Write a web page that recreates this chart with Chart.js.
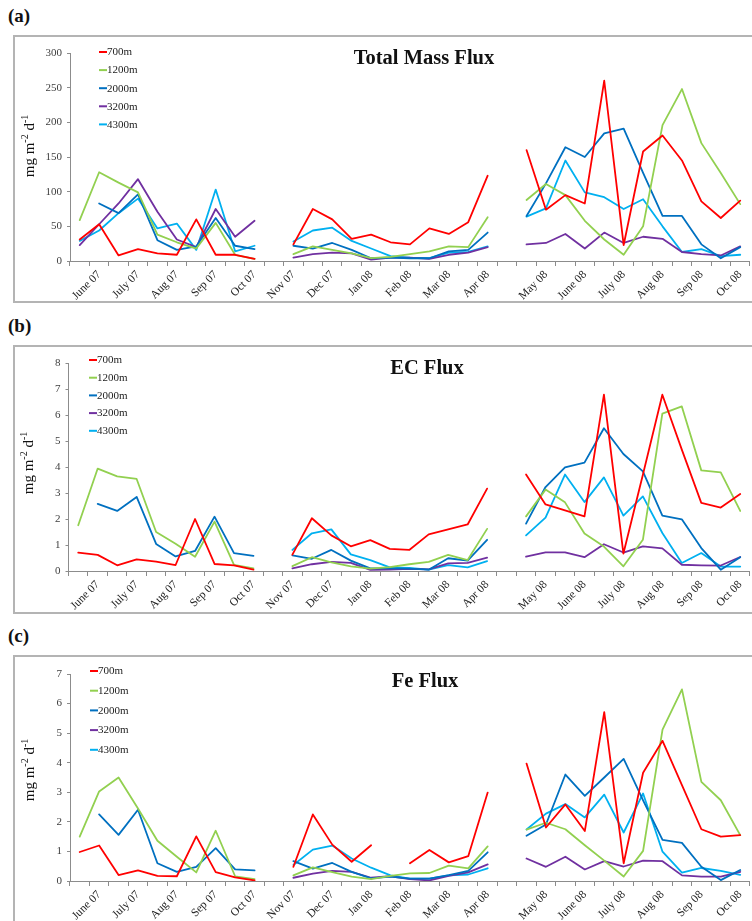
<!DOCTYPE html>
<html>
<head>
<meta charset="utf-8">
<script src="https://cdn.jsdelivr.net/npm/chart.js@4.4.1/dist/chart.umd.min.js"></script>
<style>
  body { margin: 0; background: #fff; }
  #wrap { position: relative; width: 752px; height: 921px; overflow: hidden; font-family: "Liberation Serif", "Times New Roman", serif; }
  canvas { position: absolute; left: 0; }
  .box { position: absolute; left: 13px; width: 760px; border: 2px solid #b4b4b4; box-sizing: border-box; }
  .plabel { position: absolute; left: 8px; font-weight: bold; font-size: 19px; line-height: 19px; color: #111; }
  .ttl { position: absolute; width: 220px; text-align: center; font-weight: bold; font-size: 20.5px; line-height: 22px; color: #111; }
</style>
</head>
<body>
<div id="wrap">
  <div class="plabel" style="top:6px">(a)</div>
  <div class="box" style="top:35px;height:268px"></div>
  <canvas id="tmfChart" width="752" height="266" style="top:36px"></canvas>
  <div class="ttl" style="left:314px;top:46px">Total Mass Flux</div>

  <div class="plabel" style="top:316px">(b)</div>
  <div class="box" style="top:345px;height:269px"></div>
  <canvas id="ecChart" width="752" height="267" style="top:346px"></canvas>
  <div class="ttl" style="left:317px;top:356px">EC Flux</div>

  <div class="plabel" style="top:626px">(c)</div>
  <div class="box" style="top:655px;height:280px"></div>
  <canvas id="feChart" width="752" height="266" style="top:656px"></canvas>
  <div class="ttl" style="left:315px;top:669px">Fe Flux</div>
</div>
<script>
// категории: по две на месяц, подпись у каждой второй
const months = ['', 'June 07', '', 'July 07', '', 'Aug 07', '', 'Sep 07', '', 'Oct 07',
    '', 'Nov 07', '', 'Dec 07', '', 'Jan 08', '', 'Feb 08', '', 'Mar 08', '', 'Apr 08',
    '', '', 'May 08', '', 'June 08', '', 'July 08', '', 'Aug 08', '', 'Sep 08', '', 'Oct 08'];

const depths = ['700m', '1200m', '2000m', '3200m', '4300m'];
const _ = null;

// (a) Total Mass Flux
const tmf700  = [31, 53, 8, 17, 11, 9, 60, 9, 9, 3, _, 24, 75, 60, 32, 38, 27, 24, 47, 39, 56, 123, _, 160, 74, 95, 83, 260, 23, 158, 181, 145, 86, 62, 87];
const tmf1200 = [59, 128, 113, 99, 38, 27, 18, 55, 9, 3, _, 10, 21, 16, 11, 4, 6, 10, 14, 21, 20, 63, _, 88, 111, 95, 58, 31, 9, 50, 196, 248, 170, 127, 82];
const tmf2000 = [_, 83, 69, 96, 30, 16, 21, 62, 22, 17, _, 22, 18, 26, 16, 4, 5, 4, 4, 14, 16, 41, _, 65, 112, 164, 150, 184, 191, 127, 65, 65, 24, 4, 20];
const tmf3200 = [23, 53, 83, 118, 71, 31, 20, 75, 35, 58, _, 5, 10, 12, 11, 2, 5, 5, 3, 9, 12, 20, _, 24, 26, 39, 18, 41, 26, 35, 32, 13, 10, 8, 21];
const tmf4300 = [29, 44, 69, 90, 47, 54, 16, 103, 14, 22, _, 28, 44, 48, 29, 18, 7, 5, 4, 12, 13, 21, _, 64, 76, 145, 99, 92, 75, 89, 50, 13, 17, 7, 9];

// (b) EC Flux
const ec700  = [0.71, 0.62, 0.22, 0.45, 0.36, 0.23, 2.0, 0.27, 0.22, 0.05, _, 0.63, 2.03, 1.37, 0.95, 1.19, 0.85, 0.81, 1.41, 1.6, 1.79, 3.17, _, 3.71, 2.56, 2.33, 2.1, 6.78, 0.67, 3.7, 6.78, 4.67, 2.62, 2.44, 2.96];
const ec1200 = [1.76, 3.94, 3.64, 3.54, 1.5, 1.05, 0.55, 1.9, 0.24, 0.1, _, 0.19, 0.53, 0.33, 0.18, 0.09, 0.15, 0.26, 0.35, 0.62, 0.42, 1.62, _, 2.1, 3.13, 2.64, 1.44, 0.94, 0.18, 1.2, 6.05, 6.33, 3.87, 3.79, 2.31];
const ec2000 = [_, 2.58, 2.31, 2.85, 1.04, 0.56, 0.77, 2.09, 0.69, 0.58, _, 0.6, 0.47, 0.81, 0.4, 0.1, 0.1, 0.09, 0.05, 0.49, 0.4, 1.2, _, 1.82, 3.23, 3.99, 4.17, 5.49, 4.5, 3.83, 2.13, 1.99, 0.88, 0.05, 0.53];
const ec3200 = [_, _, _, _, _, _, _, _, _, _, _, 0.1, 0.26, 0.35, 0.31, 0.04, 0.05, 0.08, 0.06, 0.29, 0.31, 0.51, _, 0.55, 0.72, 0.72, 0.53, 1.03, 0.71, 0.95, 0.87, 0.24, 0.22, 0.21, 0.54];
const ec4300 = [_, _, _, _, _, _, _, _, _, _, _, 0.81, 1.45, 1.6, 0.64, 0.42, 0.14, 0.12, 0.05, 0.23, 0.14, 0.38, _, 1.37, 2.05, 3.71, 2.65, 3.6, 2.13, 2.87, 1.46, 0.31, 0.69, 0.17, 0.17];

// (c) Fe Flux
const fe700  = [0.98, 1.2, 0.2, 0.36, 0.17, 0.16, 1.51, 0.3, 0.12, 0.02, _, 0.48, 2.25, 1.23, 0.65, 1.21, _, 0.6, 1.05, 0.63, 0.84, 2.99, _, 3.97, 1.81, 2.59, 1.69, 5.71, 0.6, 3.66, 4.74, 3.24, 1.75, 1.5, 1.55];
const fe1200 = [1.5, 3.03, 3.5, 2.45, 1.36, 0.82, 0.29, 1.7, 0.16, 0.06, _, 0.19, 0.46, 0.3, 0.15, 0.06, 0.17, 0.26, 0.27, 0.52, 0.43, 1.17, _, 1.74, 1.97, 1.75, 1.21, 0.69, 0.15, 1.02, 5.12, 6.48, 3.35, 2.73, 1.55];
const fe2000 = [_, 2.25, 1.56, 2.41, 0.6, 0.31, 0.48, 1.11, 0.39, 0.36, _, 0.67, 0.42, 0.61, 0.31, 0.09, 0.15, 0.08, 0.08, 0.2, 0.34, 0.97, _, 1.53, 1.91, 3.6, 2.88, 3.5, 4.13, 2.73, 1.39, 1.29, 0.48, 0.03, 0.37];
const fe3200 = [_, _, _, _, _, _, _, _, _, _, _, 0.11, 0.25, 0.34, 0.31, 0.11, 0.16, 0.06, 0.02, 0.17, 0.29, 0.56, _, 0.76, 0.48, 0.82, 0.39, 0.67, 0.49, 0.69, 0.67, 0.19, 0.15, 0.15, 0.31];
const fe4300 = [_, _, _, _, _, _, _, _, _, _, _, 0.54, 1.06, 1.2, 0.76, 0.45, 0.19, 0.08, 0.08, 0.19, 0.22, 0.43, _, 1.74, 2.28, 2.6, 2.15, 2.92, 1.64, 2.96, 0.99, 0.28, 0.44, 0.34, 0.21];

const COLORS = ['#ff0000', '#92d050', '#0070c0', '#7030a0', '#00b0f0'];
const SERIF = '"Liberation Serif", "Times New Roman", serif';

// легенда внутри области графика + подпись оси Y с верхними индексами
const decorPlugin = {
    id: 'decor',
    afterDraw(chart, args, o) {
        const ctx = chart.ctx;
        ctx.save();
        ctx.textBaseline = 'middle';
        ctx.textAlign = 'left';
        chart.data.datasets.forEach((ds, i) => {
            const y = o.legY + i * o.legDy;
            ctx.strokeStyle = ds.borderColor;
            ctx.lineWidth = 2;
            ctx.beginPath();
            ctx.moveTo(o.legX, y);
            ctx.lineTo(o.legX + 8, y);
            ctx.stroke();
            ctx.fillStyle = '#222';
            ctx.font = '11px ' + SERIF;
            ctx.fillText(ds.label, o.legX + 8, y + 0.5);
        });

        // "mg m-2 d-1"
        const parts = [['mg m', false], ['-2', true], [' d', false], ['-1', true]];
        const big = '15px ' + SERIF, small = '10px ' + SERIF;
        let total = 0;
        parts.forEach(p => { ctx.font = p[1] ? small : big; total += ctx.measureText(p[0]).width; });
        ctx.translate(o.titleX, o.titleY);
        ctx.rotate(-Math.PI / 2);
        ctx.fillStyle = '#111';
        let x = -total / 2;
        parts.forEach(p => {
            ctx.font = p[1] ? small : big;
            ctx.fillText(p[0], x, p[1] ? -5 : 0);
            x += ctx.measureText(p[0]).width;
        });
        ctx.restore();
    }
};

function drawPanel(id, series, yMax, step, cfg) {
    const canvas = document.getElementById(id);
    const datasets = series.map((data, i) => ({
        label: depths[i],
        data: data,
        borderColor: COLORS[i],
        backgroundColor: COLORS[i],
        borderWidth: 1.8,
        borderJoinStyle: 'round',
        borderCapStyle: 'round',
        pointRadius: 0,
        tension: 0,
        fill: false,
        spanGaps: false
    }));

    return new Chart(canvas, {
        type: 'line',
        plugins: [decorPlugin],
        data: { labels: months, datasets: datasets },
        options: {
            responsive: false,
            animation: false,
            layout: { padding: { top: cfg.padTop, right: 1, left: 0, bottom: 0 } },
            plugins: {
                legend: { display: false },
                tooltip: { enabled: false },
                decor: cfg.decor
            },
            scales: {
                x: {
                    offset: true,
                    grid: { offset: true, drawOnChartArea: false, tickLength: 5, color: '#8c8c8c' },
                    border: { color: '#8c8c8c', width: 1 },
                    ticks: {
                        autoSkip: false,
                        maxRotation: 45,
                        minRotation: 45,
                        padding: 2,
                        color: '#222',
                        font: { family: SERIF, size: 11.5 }
                    },
                    afterFit: s => { s.height = cfg.xH; }
                },
                y: {
                    min: 0,
                    max: yMax,
                    ticks: { stepSize: step, padding: 5, color: '#404040', font: { family: SERIF, size: 11 } },
                    grid: { drawOnChartArea: false, tickLength: 3, color: '#8c8c8c' },
                    border: { color: '#8c8c8c', width: 1 },
                    afterFit: s => { s.width = cfg.yW; }
                }
            }
        }
    });
}

drawPanel('tmfChart', [tmf700, tmf1200, tmf2000, tmf3200, tmf4300], 300, 50, {
    padTop: 17, xH: 41, yW: 70,
    decor: { legX: 99, legY: 16, legDy: 18.1, titleX: 30, titleY: 110 }
});

drawPanel('ecChart', [ec700, ec1200, ec2000, ec3200, ec4300], 8, 1, {
    padTop: 17, xH: 42, yW: 68.5,
    decor: { legX: 89, legY: 14, legDy: 17.7, titleX: 29, titleY: 117 }
});

drawPanel('feChart', [fe700, fe1200, fe2000, fe3200, fe4300], 7, 1, {
    padTop: 18, xH: 41, yW: 70,
    decor: { legX: 90, legY: 15, legDy: 19.7, titleX: 30, titleY: 114 }
});
</script>
</body>
</html>
